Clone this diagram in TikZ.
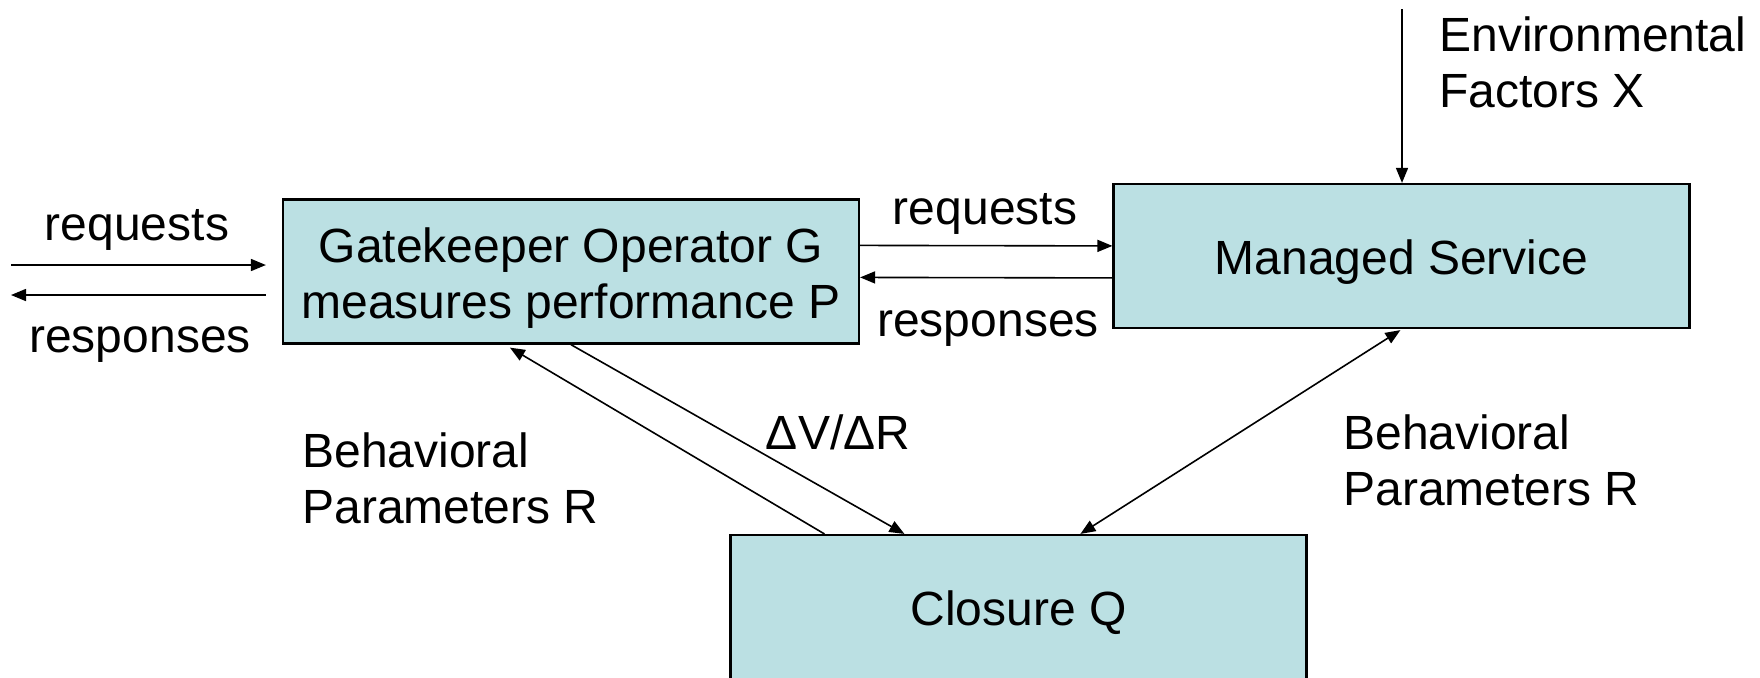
\documentclass[tikz,border=0pt]{standalone}
\usepackage{fontspec}
\setmainfont{Liberation Sans}
\usetikzlibrary{arrows.meta,calc}
\definecolor{boxfill}{RGB}{187,224,227}

\begin{document}
\begin{tikzpicture}[x=0.5pt, y=-0.5pt, font=\fontsize{24}{28}\selectfont,
	box/.style={draw, line width=1.1pt, fill=boxfill, inner sep=0pt, align=center,
		minimum width=288pt, minimum height=72pt, text height=22.5pt, text depth=4.5pt},
	arr/.style={line width=0.8pt, -{Triangle[length=7.5pt,width=6pt]}},
	dblarr/.style={line width=0.8pt, {Triangle[length=7.5pt,width=6pt]}-{Triangle[length=7.5pt,width=6pt]}},
	lbl/.style={inner sep=0pt, align=left}]
	\useasboundingbox (0,0) rectangle (1760,677);
	% boxes
	\node[box, text height=51.5pt, text depth=5pt] (gate) at (571,271.5) {Gatekeeper Operator G\\measures performance P};
	\node[box] (svc) at (1401.5,256) {Managed Service};
	\node[box] (clos) at (1018.5,607) {Closure Q};
	% free ends
	\coordinate (inA) at (11,265);
	\coordinate (inB) at (11,295);
	\coordinate (envTop) at (1402,9);
	% requests and responses
	\draw[arr, shorten >=8pt] (inA) -- (inA -| gate.west);
	\draw[arr, shorten <=8pt] (inB -| gate.west) -- (inB);
	\draw[arr] ($(gate.north east)+(0,47)$) -- ($(svc.north west)+(0,63)$);
	\draw[arr] ($(svc.north west)+(0,95)$) -- ($(gate.north east)+(0,79)$);
	\draw[arr] (envTop) -- (envTop |- svc.north);
	% feedback to and from the closure
	\draw[arr] ($(clos.north west)+(95,0)$) -- ($(gate.south west)+(228,3)$);
	\draw[arr] ($(gate.south west)+(289,0)$) -- ($(clos.north west)+(175,0)$);
	\draw[dblarr] ($(svc.south west)+(288,1)$) -- ($(clos.north west)+(351,0)$);
	% labels
	\node[lbl] (reqL) at (137,230) {requests};
	\node[lbl] (resL) at (140,345) {responses};
	\node[lbl] (reqM) at (985,214) {requests};
	\node[lbl] (resM) at (988,329) {responses};
	\node[lbl, anchor=west] (env) at (1439,62) {Environmental\\Factors X};
	\node[lbl, anchor=west] (behL) at (302,478) {Behavioral\\Parameters R};
	\node[lbl, anchor=west] (behR) at (1343,460) {Behavioral\\Parameters R};
	\node[lbl] (dvdr) at (838,432) {ΔV/ΔR};
\end{tikzpicture}
\end{document}
